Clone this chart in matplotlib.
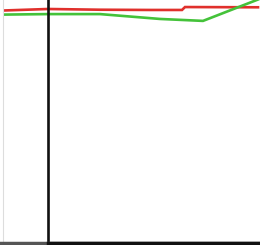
import matplotlib
matplotlib.use('Agg')
import matplotlib.pyplot as plt

# series (x in sample units, y in percent)
redX = [5, 48, 100, 150, 182, 185, 258]
redY = [95.7, 96.3, 96.0, 95.9, 95.9, 97.1, 97.0]
greenX = [5, 48, 100, 160, 203, 258]
greenY = [94.0, 94.2, 94.2, 92.2, 91.4, 100.2]
markerX = 48
guideX = 3

fig = plt.figure(figsize=(2.6, 2.45), dpi=100)
ax = fig.add_axes([0, 2/245, 1, 243/245])
ax.plot(redX, redY, color='#e0302c', lw=1.9, solid_joinstyle='miter')
ax.plot(greenX, greenY, color='#44c23a', lw=1.9)
ax.axvline(markerX, color='#111111', lw=1.9)
ax.axvline(guideX, color='#dddddd', lw=0.8)
ax.set_xlim(0, 260)
ax.set_ylim(0, 100)
for s in ['top', 'right', 'left']:
    ax.spines[s].set_visible(False)
ax.spines['bottom'].set_color('#555555')
ax.spines['bottom'].set_linewidth(2.5)
# darker axis segment right of the marker
ax.plot([markerX, 260], [0, 0], color='#111111', lw=2.5, clip_on=False, zorder=5)
ax.set_xticks([])
ax.set_yticks([])
fig.savefig('out.png', dpi=100)
